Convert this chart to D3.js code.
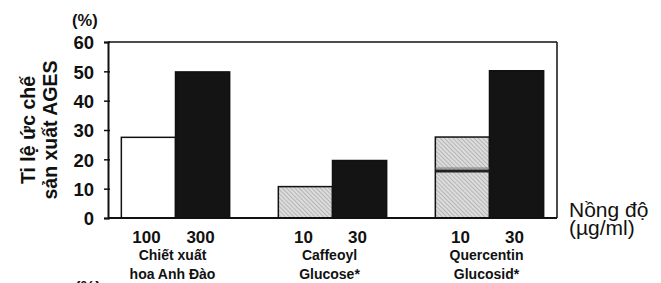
<!DOCTYPE html>
<html><head><meta charset="utf-8">
<script src="https://cdn.jsdelivr.net/npm/d3@7"></script>
<style>
html,body{margin:0;padding:0;background:#fff;}
svg{display:block;font-family:"Liberation Sans",Arial,Helvetica,sans-serif;}
</style></head>
<body>
<svg id="c" width="661" height="283"></svg>
<script>
// ---- data ----
const groups = ["Chiết xuất\nhoa Anh Đào", "Caffeoyl\nGlucose*", "Quercentin\nGlucosid*"];
const doseLabels = [["100", "300"], ["10", "30"], ["10", "30"]];
const lowDose = [27.5, 10.7, 27.6];
const highDose = [49.8, 19.6, 50.2];
const innerMark = [null, null, 16];
const yTicks = [0, 10, 20, 30, 40, 50, 60];
const lowFill = ["white", "hatch", "hatch"];

const svg = d3.select("#c");
const defs = svg.append("defs");
const pat = defs.append("pattern").attr("id", "hatch")
  .attr("patternUnits", "userSpaceOnUse").attr("width", 3).attr("height", 3)
  .attr("patternTransform", "rotate(-45)");
pat.append("rect").attr("width", 3).attr("height", 3).attr("fill", "#dcdcdc");
pat.append("line").attr("x1", 0).attr("y1", 0).attr("x2", 0).attr("y2", 3)
  .attr("stroke", "#909090").attr("stroke-width", 1);

const L = 108, R = 557, T = 42, B = 218;
const y = d3.scaleLinear().domain([0, 60]).range([B, T]);
const x = d3.scaleBand().domain(groups).range([L, R]).paddingInner(0.31).paddingOuter(0.085);
const sub = d3.scaleBand().domain([0, 1]).range([0, x.bandwidth()]);

// frame
svg.append("line").attr("x1", L).attr("x2", R).attr("y1", T).attr("y2", T).attr("stroke", "#111").attr("stroke-width", 1.5);
svg.append("line").attr("x1", R).attr("x2", R).attr("y1", T).attr("y2", B).attr("stroke", "#111").attr("stroke-width", 1.5);

// bars
const g = svg.append("g");
groups.forEach((grp, i) => {
  const x0 = x(grp);
  const f = lowFill[i] === "white" ? "#fff" : "url(#hatch)";
  g.append("rect").attr("x", x0 + sub(0)).attr("width", sub.bandwidth())
    .attr("y", y(lowDose[i])).attr("height", y(0) - y(lowDose[i]))
    .attr("fill", f).attr("stroke", "#111").attr("stroke-width", 1.5);
  g.append("rect").attr("x", x0 + sub(1)).attr("width", sub.bandwidth())
    .attr("y", y(highDose[i])).attr("height", y(0) - y(highDose[i]))
    .attr("fill", "#141414").attr("stroke", "#111").attr("stroke-width", 1.5);
  if (innerMark[i] != null) {
    g.append("line").attr("x1", x0 + sub(0)).attr("x2", x0 + sub(1))
      .attr("y1", y(innerMark[i])).attr("y2", y(innerMark[i]))
      .attr("stroke", "#222").attr("stroke-width", 3);
    g.append("line").attr("x1", x0 + sub(0)).attr("x2", x0 + sub(1))
      .attr("y1", y(innerMark[i]) - 3).attr("y2", y(innerMark[i]) - 3)
      .attr("stroke", "#777").attr("stroke-width", 1);
  }
  // dose labels
  doseLabels[i].forEach((lab, j) => {
    svg.append("text").attr("x", x0 + sub(j) + sub.bandwidth() / 2 - 2).attr("y", 243)
      .attr("text-anchor", "middle").attr("font-weight", "bold").attr("font-size", 17)
      .attr("fill", "#111").text(lab);
  });
  grp.split("\n").forEach((ln, k) => {
    svg.append("text").attr("x", x0 + x.bandwidth() / 2 - 3).attr("y", 260 + k * 19)
      .attr("text-anchor", "middle").attr("font-weight", "bold").attr("font-size", 14)
      .attr("fill", "#111").text(ln);
  });
});

// y axis
const ya = svg.append("g").attr("transform", `translate(${L},0)`)
  .call(d3.axisLeft(y).tickValues(yTicks).tickSize(4).tickPadding(10));
ya.select(".domain").attr("stroke", "#111").attr("stroke-width", 2);
ya.selectAll(".tick line").attr("stroke", "#111").attr("stroke-width", 1.5).attr("x2", 2).attr("x1", -4);
ya.selectAll(".tick text").attr("font-size", 18.5).attr("font-weight", "bold")
  .attr("font-family", "Liberation Sans, Arial, sans-serif").attr("fill", "#111").attr("dy", "0.36em");

// bottom axis line
svg.append("line").attr("x1", L).attr("x2", R).attr("y1", B).attr("y2", B).attr("stroke", "#111").attr("stroke-width", 2.2);

// y unit
svg.append("text").attr("x", 72).attr("y", 26).attr("font-weight", "bold").attr("font-size", 16.5).attr("fill", "#111").text("(%)");
svg.append("text").attr("x", 75).attr("y", 293).attr("font-weight", "bold").attr("font-size", 16.5).attr("fill", "#111").text("(%)");

// y title
const yt = svg.append("text").attr("transform", "translate(0,130) rotate(-90)")
  .attr("text-anchor", "middle").attr("font-weight", "bold").attr("font-size", 19.5).attr("fill", "#111");
yt.append("tspan").attr("x", 0).attr("y", 35).text("Ti lệ ức chế");
yt.append("tspan").attr("x", 0).attr("y", 57).text("sản xuất AGES");

// x unit
svg.append("text").attr("x", 569).attr("y", 217).attr("font-size", 21).attr("fill", "#111").text("Nồng độ");
svg.append("text").attr("x", 569).attr("y", 235).attr("font-size", 21).attr("fill", "#111").text("(µg/ml)");
</script>
</body></html>
